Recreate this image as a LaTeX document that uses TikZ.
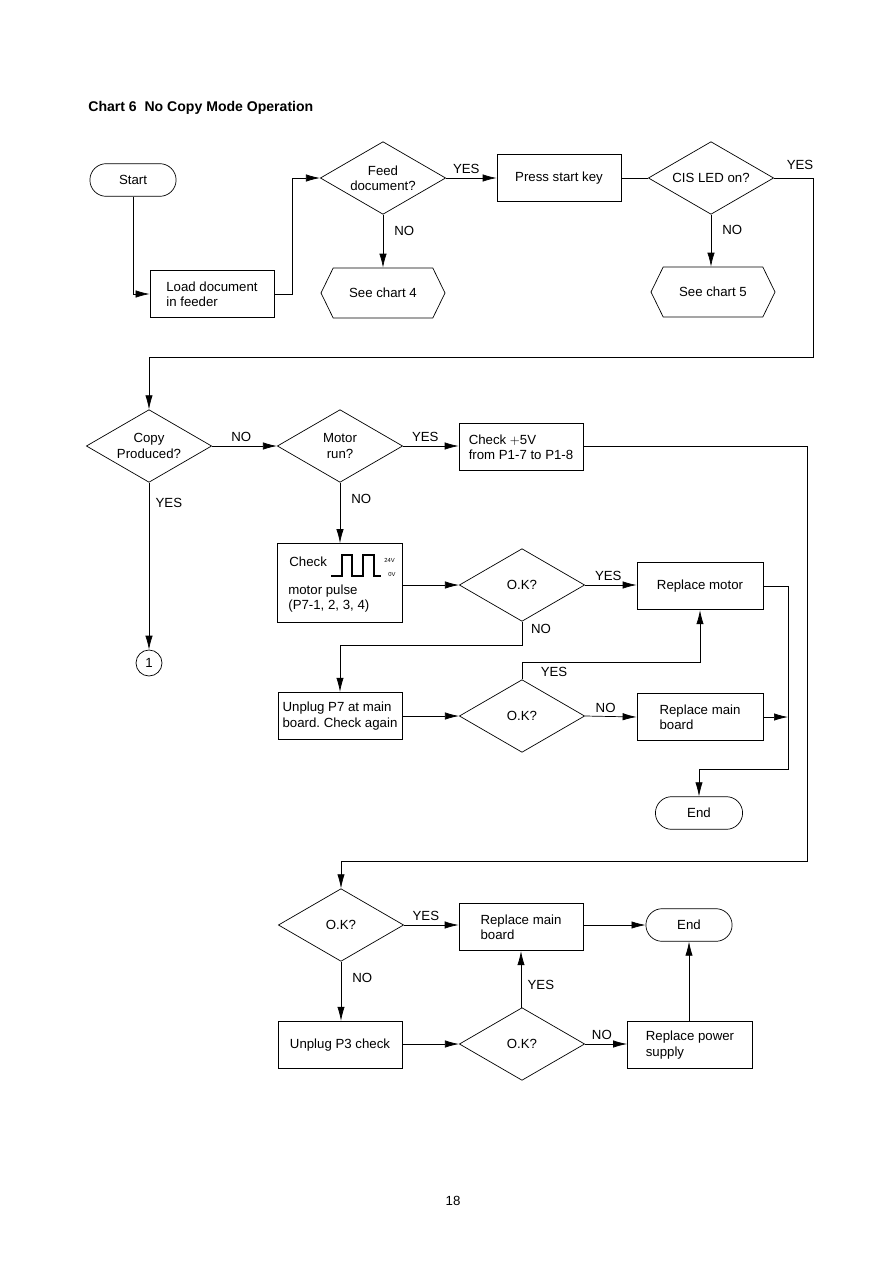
\documentclass[tikz,border=0pt]{standalone}
\usepackage{fontspec}
\setmainfont{Liberation Sans}
\frenchspacing
\usetikzlibrary{shapes.geometric,shapes.misc,shapes.symbols,arrows.meta}
\begin{document}
\begin{tikzpicture}[x=0.03cm, y=-0.03cm,
  every node/.style={font=\fontsize{11.3}{13}\selectfont},
  every path/.style={line width=0.6pt},
  box/.style={draw, rectangle, minimum width=3.72cm, minimum height=1.43cm, align=left, inner sep=2pt},
  dec/.style={draw, diamond, aspect=1.7, minimum width=3.76cm, minimum height=2.18cm, inner sep=0pt, align=center},
  term/.style={draw, rounded rectangle, minimum width=2.82cm, minimum height=0.98cm},
  hexa/.style={draw, signal, signal to=west and east, signal pointer angle=128, minimum width=3.72cm, minimum height=1.5cm},
  arr/.style={-{Latex[length=4.2mm,width=2.2mm]}},
  tiny/.style={font=\fontsize{5}{6}\selectfont, inner sep=0pt}]
  \useasboundingbox (0,0) rectangle (893,1263);
  \node[anchor=west, font=\fontsize{12}{14}\bfseries, inner sep=0pt] (title) at (88,108) {Chart 6\ \ No Copy Mode Operation};

  \node[term] (start) at (133,180) {Start};
  \node[box] (load) at (212,294) {Load document\\in feeder};
  \node[dec] (feed) at (383,178) {Feed\\document?};
  \node[hexa] (chart4) at (383,293) {See chart 4};
  \node[box] (press) at (559,178) {Press start key};
  \node[dec] (cis) at (711,178) {CIS LED on?};
  \node[hexa] (chart5) at (713,292) {See chart 5};

  \node[dec] (copy) at (149,446) {Copy\\Produced?};
  \node[dec] (motor) at (340,446) {Motor\\run?};
  \node[box] (fivev) at (521,447) {Check $+$5V\\from P1-7 to P1-8};
  \node[draw, circle, minimum size=0.78cm, inner sep=0pt] (one) at (149,663) {1};

  \node[box, minimum width=3.75cm, minimum height=2.37cm] (pulse) at (340,583) {};
  \node[anchor=west, inner sep=0pt] (pchk) at (289,562) {Check};
  \node[anchor=west, inner sep=0pt] (pmot) at (288,591) {motor pulse};
  \node[anchor=west, inner sep=0pt] (ppin) at (288,606) {(P7-1, 2, 3, 4)};
  \node[tiny, anchor=west] (phi) at (384,560) {24V};
  \node[tiny, anchor=west] (plo) at (388,574) {0V};
  \draw[line width=1pt] (331,576) -- (342,576) -- (342,555) -- (352,555) -- (352,576)
    -- (363,576) -- (363,555) -- (374,555) -- (374,576) -- (381,576);
  \node[dec] (ok1) at (522,585) {O.K?};
  \node[box, minimum width=3.78cm] (repmotor) at (700,586) {Replace motor};
  \node[box] (unplug7) at (340,716) {Unplug P7 at main\\board. Check again};
  \node[dec] (ok2) at (522,716) {O.K?};
  \node[box, minimum width=3.78cm] (repmain1) at (700,717) {Replace main\\board};
  \node[term, minimum width=2.85cm] (end1) at (699,813) {End};

  \node[dec] (ok3) at (341,925) {O.K?};
  \node[box] (repmain2) at (521,927) {Replace main\\board};
  \node[term] (end2) at (689,925) {End};
  \node[box] (unplug3) at (340,1045) {Unplug P3 check};
  \node[dec] (ok4) at (522,1044) {O.K?};
  \node[box, minimum width=3.75cm] (reppower) at (690,1045) {Replace power\\supply};

  \node (page) at (453,1201) {18};

  \coordinate (r1) at (813,357);
  \coordinate (r2) at (807,861);
  \coordinate (r3) at (788,769);

  \draw[arr] (start) |- (load);
  \draw[arr] (load.east) -- ++(18,0) |- (feed.west);
  \draw[arr] (feed.east) -- (press.west) node[pos=0.4, above] {YES};
  \draw[arr] (feed.south) -- (chart4.north) node[pos=0.3, right=6pt] {NO};
  \draw (press.east) -- (cis.west);
  \draw[arr] (cis.south) -- (cis.south |- chart5.north) node[pos=0.3, right=6pt] {NO};
  \draw[arr] (cis.east) -| (r1) -| (copy.north);
  \node (cisyes) at (800,165) {YES};

  \draw[arr] (copy.east) -- (motor.west) node[pos=0.45, above] {NO};
  \draw[arr] (motor.east) -- (motor.east -| fivev.west) node[pos=0.4, above] {YES};
  \draw[arr] (copy.south) -- (one.north) node[pos=0.12, right=2pt] {YES};
  \draw[arr] (motor.south) -- (pulse.north) node[pos=0.27, right=6pt] {NO};
  \draw[arr] (fivev.east |- motor.east) -| (r2) -| (ok3.north);

  \draw[arr] (pulse.east |- ok1.west) -- (ok1.west);
  \draw[arr] (ok1.east) -- (ok1.east -| repmotor.west) node[pos=0.45, above] {YES};
  \draw[arr] (ok1.south) -- ++(0,24) -| (unplug7.north);
  \node (ok1no) at (541,629) {NO};
  \draw[arr] (unplug7.east) -- (ok2.west);
  \draw[arr] (ok2.north) -- ++(0,-17) -| (repmotor.south);
  \node (ok2yes) at (554,672) {YES};
  \draw[arr] (ok2.east) -- (repmain1.west) node[pos=0.4, above] {NO};
  \draw[arr] (repmotor.east) -| (r3) -| (end1.north);
  \draw[arr] (repmain1.east) -- (repmain1.east -| r3);

  \draw[arr] (ok3.east) -- (ok3.east -| repmain2.west) node[pos=0.4, above] {YES};
  \draw[arr] (repmain2.east |- end2.west) -- (end2.west);
  \draw[arr] (ok3.south) -- (ok3.south |- unplug3.north) node[pos=0.27, right=6pt] {NO};
  \draw[arr] (unplug3.east |- ok4.west) -- (ok4.west);
  \draw[arr] (ok4.north) -- (ok4.north -| repmain2.south) -- (repmain2.south) node[pos=0.4, right=2pt] {YES};
  \draw[arr] (ok4.east) -- (ok4.east -| reppower.west) node[pos=0.4, above] {NO};
  \draw[arr] (reppower.north -| end2.south) -- (end2.south);
\end{tikzpicture}
\end{document}
